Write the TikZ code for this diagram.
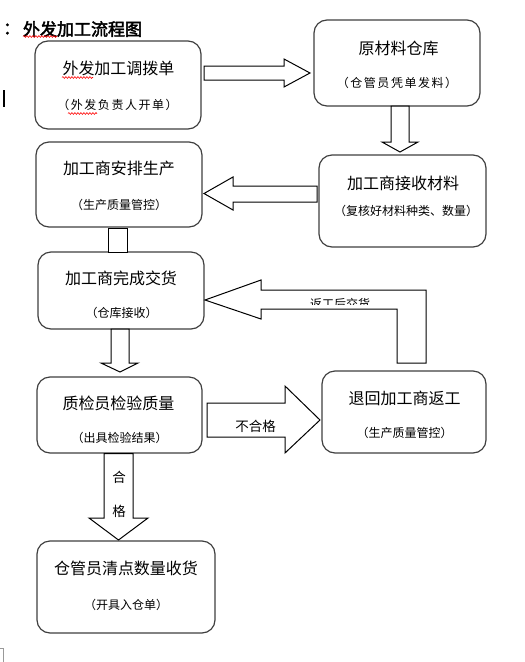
\documentclass[tikz,border=0pt]{standalone}
\usepackage{fontspec}
\newfontfamily\cjk{Noto Sans CJK SC}
\newfontfamily\cjkwide[LetterSpace=13]{Noto Sans CJK SC}
\newfontfamily\titlefont[FakeBold=2.5]{Noto Sans CJK SC}
\usetikzlibrary{decorations.pathmorphing}
\tikzset{
  box/.style={draw=black!75, line width=1.2, rounded corners=13, inner sep=0, outer sep=0},
  maintext/.style={font=\cjk\fontsize{16}{18}\selectfont, inner sep=0},
  subtext/.style={font=\cjk\fontsize{12}{14}\selectfont, inner sep=0},
  widesub/.style={font=\cjkwide\fontsize{12}{14}\selectfont, inner sep=0},
  blockarrow/.style={draw=black, line width=1, fill=white, line join=miter},
  lbl/.style={font=\cjk\fontsize{13.5}{15}\selectfont, inner sep=0},
  wavy/.style={draw=red, line width=0.6, decorate, decoration={snake, amplitude=0.9, segment length=3}}
}
\begin{document}
\begin{tikzpicture}[x=1pt, y=-1pt]
\useasboundingbox (0,0) rectangle (525,662);
\fill[white] (0,0) rectangle (525,662);

% title
\node[font=\titlefont\fontsize{17}{19}\selectfont, inner sep=0, anchor=west] (colon) at (3,29) {：};
\node[font=\titlefont\fontsize{17}{19}\selectfont, inner sep=0] (title) at (82.5,29) {外发加工流程图};
\draw[wavy] (23,36.5) -- (57,36.5);

% cursor marks
\fill[black] (3,90) rectangle (5,107);
\draw[black!40, line width=0.6] (0,648.5) -- (3,648.5) -- (3,662);

% boxes
\node[box, minimum width=166, minimum height=88] (b1) at (118,85) {};
\node[box, minimum width=166, minimum height=86] (b2) at (397,63) {};
\node[box, minimum width=166, minimum height=85] (b3) at (119,184.5) {};
\node[box, minimum width=167, minimum height=92] (b4) at (402.5,201) {};
\node[box, minimum width=166, minimum height=77] (b5) at (121,290.5) {};
\node[box, minimum width=165, minimum height=76] (b6) at (119.5,415) {};
\node[box, minimum width=164, minimum height=82] (b7) at (404,412) {};
\node[box, minimum width=178, minimum height=92] (b8) at (126,587) {};

% box texts
\node[maintext] (t1) at (118.5,68) {外发加工调拨单};
\node[widesub] (s1) at (117.5,105) {（外发负责人开单）};
\draw[wavy] (62,77.5) -- (93,77.5);
\draw[wavy] (68,113.5) -- (97,113.5);
\node[maintext] (t2) at (398.5,48) {原材料仓库};
\node[widesub] (s2) at (397,83) {（仓管员凭单发料）};
\node[maintext] (t3) at (119,168) {加工商安排生产};
\node[subtext] (s3) at (119,205) {（生产质量管控）};
\node[maintext] (t4) at (403,183) {加工商接收材料};
\node[subtext] (s4) at (406,211) {（复核好材料种类、数量）};
\node[maintext] (t5) at (121,278) {加工商完成交货};
\node[subtext] (s5) at (121.5,313) {（仓库接收）};
\node[maintext] (t6) at (118.5,403) {质检员检验质量};
\node[subtext] (s6) at (119.5,438) {（出具检验结果）};
\node[maintext] (t7) at (404.5,398) {退回加工商返工};
\node[subtext] (s7) at (404.5,433) {（生产质量管控）};
\node[maintext] (t8) at (126,568) {仓管员清点数量收货};
\node[subtext] (s8) at (126,605) {（开具入仓单）};

% block arrows
\draw[blockarrow] (204,66) -- (284,66) -- (284,59) -- (310,73) -- (284,87) -- (284,80) -- (204,80) -- cycle;
\draw[blockarrow] (391,106) -- (391,142) -- (382,142) -- (400,152) -- (418,142) -- (409,142) -- (409,106) -- cycle;
\draw[blockarrow] (317,186) -- (233,186) -- (233,177) -- (204,193.5) -- (233,210) -- (233,202) -- (317,202) -- cycle;
\draw[blockarrow] (108,228) rectangle (127,252);
\draw[blockarrow] (111,329) -- (111,363) -- (101,363) -- (120,372) -- (138,363) -- (129,363) -- (129,329) -- cycle;
\draw[blockarrow] (426,290) -- (261,290) -- (261,280) -- (205,300) -- (261,319) -- (261,309) -- (397,309) -- (397,363) -- (426,363) -- cycle;
\draw[blockarrow] (207,403) -- (285,403) -- (285,386) -- (320,420) -- (285,453) -- (285,437) -- (207,437) -- cycle;
\draw[blockarrow] (104,453.6) -- (104,518) -- (89,518) -- (118.5,540) -- (148,518) -- (133,518) -- (133,453.6) -- cycle;

% arrow labels
\begin{scope}
  \clip (300,291) rectangle (390,304.5);
  \node[subtext] (fanhuo) at (340,303.5) {返工后交货};
\end{scope}
\node[lbl] (bhg) at (255.5,426) {不合格};
\node[lbl] (he) at (119,477) {合};
\node[lbl] (ge) at (119,511) {格};
\end{tikzpicture}
\end{document}
